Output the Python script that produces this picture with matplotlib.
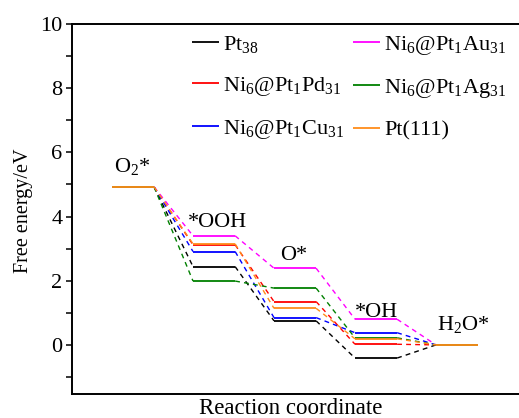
import matplotlib
matplotlib.use("Agg")
import matplotlib.pyplot as plt

plt.rcParams['font.family'] = ['Liberation Serif', 'DejaVu Serif']
plt.rcParams['mathtext.fontset'] = 'custom'
plt.rcParams['mathtext.rm'] = 'Liberation Serif'
plt.rcParams['mathtext.it'] = 'Liberation Serif:italic'

steps = ['O$_2$*', '*OOH', 'O*', '*OH', 'H$_2$O*']
series_names = ['Pt$_{38}$', 'Ni$_6$@Pt$_1$Pd$_{31}$', 'Ni$_6$@Pt$_1$Cu$_{31}$',
                'Ni$_6$@Pt$_1$Au$_{31}$', 'Ni$_6$@Pt$_1$Ag$_{31}$', 'Pt(111)']
pt38 = [4.92, 2.44, 0.75, -0.41, 0.0]
pd31 = [4.92, 3.12, 1.35, 0.02, 0.0]
cu31 = [4.92, 2.91, 0.85, 0.38, 0.0]
au31 = [4.92, 3.40, 2.39, 0.80, 0.0]
ag31 = [4.92, 1.99, 1.77, 0.22, 0.0]
pt111 = [4.92, 3.15, 1.14, 0.19, 0.0]
series = [pt38, pd31, cu31, au31, ag31, pt111]
colors = ['#000000', '#ff0000', '#0000ff', '#ff00ff', '#008000', '#ff8c1a']

W = 0.52  # level width

fig = plt.figure(figsize=(5.19, 4.18), dpi=100)
ax = fig.add_axes([72/519, 1-394/418, 447/519, (394-24)/418])

for name, vals, c in zip(series_names, series, colors):
    for i, v in enumerate(vals):
        ax.plot([i, i+W], [v, v], color=c, lw=1.3,
                label=name if i == 0 else None, solid_capstyle='butt')
        if i < len(vals)-1:
            ax.plot([i+W, i+1], [v, vals[i+1]], color=c, lw=1.0,
                    ls=(0, (3.5, 3)))

label_pos = [(0.03, 5.39), (0.94, 3.68), (2.07, 2.65), (3.0, 0.87), (4.01, 0.47)]
for s, (x, y) in zip(steps, label_pos):
    ax.text(x, y, s, fontsize=16, ha='left', va='baseline')

ax.set_xlim(-0.494, 5.025)
ax.set_ylim(-1.53, 10)
ax.set_yticks([0, 2, 4, 6, 8, 10])
ax.set_yticks([-1, 1, 3, 5, 7, 9], minor=True)
ax.set_xticks([])
ax.tick_params(axis='y', which='both', direction='out', length=4, width=1.1,
               labelsize=16, pad=3)
for sp in ['left', 'bottom', 'top']:
    ax.spines[sp].set_linewidth(1.4)
ax.spines['right'].set_visible(False)

ax.set_ylabel('Free energy/eV', fontsize=14.5)
ax.yaxis.set_label_coords(-0.087, 0.495)
ax.set_xlabel('Reaction coordinate', fontsize=16.5)
ax.xaxis.set_label_coords(0.49, -0.01)

ax.legend(loc='upper left', bbox_to_anchor=(192/519, 0.918),
          bbox_transform=fig.transFigure, ncol=2, frameon=False, fontsize=16,
          handlelength=1.2, handletextpad=0.2, columnspacing=0.4,
          labelspacing=0.9, borderpad=0, borderaxespad=0)

fig.savefig('out.png', dpi=100)
